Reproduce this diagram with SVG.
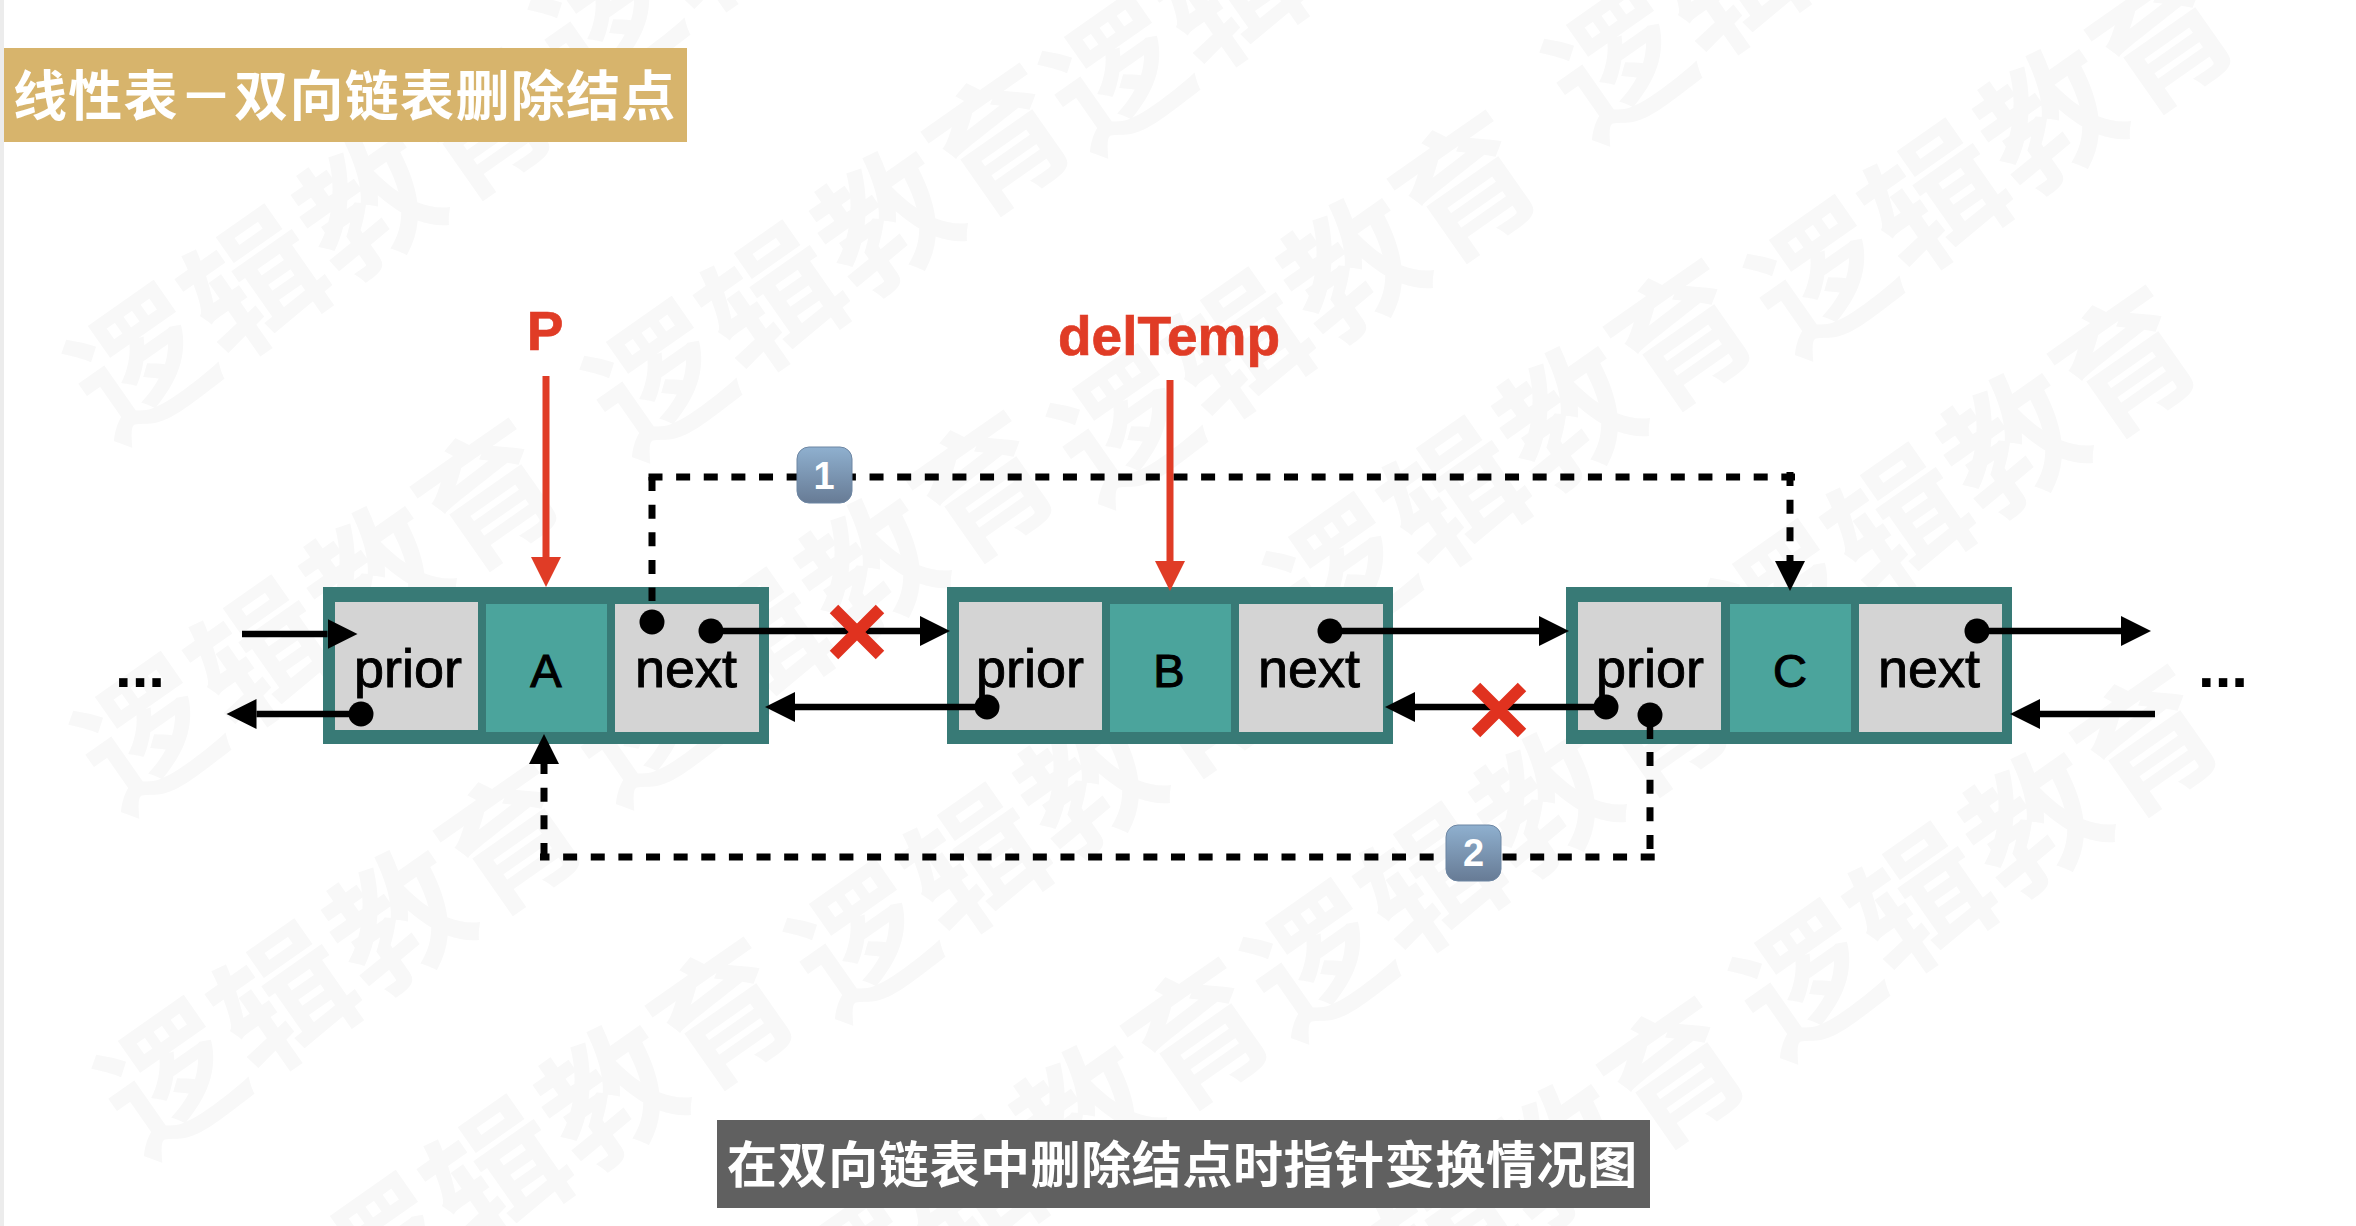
<svg xmlns="http://www.w3.org/2000/svg" width="2356" height="1226" viewBox="0 0 2356 1226">
<style>
.wm{font:700 136px "Noto Sans CJK SC",sans-serif;fill:#f8f8f8;letter-spacing:3px}
.frame{fill:#387a76}
.cell{fill:#d4d4d4}
.data{fill:#4ba49c}
.lbl{font:54px "Liberation Sans",Arial,sans-serif;fill:#000;stroke:#000;stroke-width:.9;text-anchor:middle}
.val{font:47px "Liberation Sans",Arial,sans-serif;fill:#000;stroke:#000;stroke-width:1.1;text-anchor:middle}
.ptr{font:700 55px "Liberation Sans",Arial,sans-serif;fill:#e03c26;stroke:#e03c26;stroke-width:.7;text-anchor:middle}
.dots{font:700 60px "Liberation Sans",Arial,sans-serif;fill:#000}
.solid{fill:none;stroke:#000;stroke-width:6.5}
.dash{fill:none;stroke:#000;stroke-width:7;stroke-dasharray:14 13.63}
.red{fill:none;stroke:#e03c26;stroke-width:7}
.cross{fill:none;stroke:#e0321f;stroke-width:12}
.badge{fill:url(#bg);stroke:#6d86a3;stroke-width:1}
.num{font:700 38px "Liberation Sans",Arial,sans-serif;fill:#fff;text-anchor:middle}
</style>
<defs>
<linearGradient id="bg" x1="0" y1="0" x2="0" y2="1"><stop offset="0" stop-color="#8fb0cf"/><stop offset="1" stop-color="#677b95"/></linearGradient>
<marker id="ah" markerUnits="userSpaceOnUse" markerWidth="32" markerHeight="32" refX="0" refY="16" orient="auto" viewBox="0 0 32 32"><path d="M0 1L30 16L0 31Z" fill="#000"/></marker>
<marker id="rh" markerUnits="userSpaceOnUse" markerWidth="32" markerHeight="32" refX="0" refY="16" orient="auto" viewBox="0 0 32 32"><path d="M0 1L30 16L0 31Z" fill="#e03c26"/></marker>
<marker id="dot" markerUnits="userSpaceOnUse" markerWidth="26" markerHeight="26" refX="13" refY="13" viewBox="0 0 26 26"><circle cx="13" cy="13" r="12.5" fill="#000"/></marker>
</defs>
<rect width="2356" height="1226" fill="#fff"/>
<rect width="4" height="1226" fill="#ececec"/>
<g id="watermark">
<g transform="translate(143 367) rotate(-35)"><text class="wm" x="-68" y="47">逻辑教育</text></g>
<g transform="translate(661 383) rotate(-35)"><text class="wm" x="-68" y="47">逻辑教育</text></g>
<g transform="translate(609 23) rotate(-35)"><text class="wm" x="-68" y="47">逻辑教育</text></g>
<g transform="translate(1119 78) rotate(-35)"><text class="wm" x="-68" y="47">逻辑教育</text></g>
<g transform="translate(1127 430) rotate(-35)"><text class="wm" x="-68" y="47">逻辑教育</text></g>
<g transform="translate(1621 66) rotate(-35)"><text class="wm" x="-68" y="47">逻辑教育</text></g>
<g transform="translate(1824 281) rotate(-35)"><text class="wm" x="-68" y="47">逻辑教育</text></g>
<g transform="translate(1343 578) rotate(-35)"><text class="wm" x="-68" y="47">逻辑教育</text></g>
<g transform="translate(1787 605) rotate(-35)"><text class="wm" x="-68" y="47">逻辑教育</text></g>
<g transform="translate(645 730) rotate(-35)"><text class="wm" x="-68" y="47">逻辑教育</text></g>
<g transform="translate(150 738) rotate(-35)"><text class="wm" x="-68" y="47">逻辑教育</text></g>
<g transform="translate(173 1082) rotate(-35)"><text class="wm" x="-68" y="47">逻辑教育</text></g>
<g transform="translate(864 945) rotate(-35)"><text class="wm" x="-68" y="47">逻辑教育</text></g>
<g transform="translate(385 1257) rotate(-35)"><text class="wm" x="-68" y="47">逻辑教育</text></g>
<g transform="translate(860 1277) rotate(-35)"><text class="wm" x="-68" y="47">逻辑教育</text></g>
<g transform="translate(1320 964) rotate(-35)"><text class="wm" x="-68" y="47">逻辑教育</text></g>
<g transform="translate(1809 984) rotate(-35)"><text class="wm" x="-68" y="47">逻辑教育</text></g>
<g transform="translate(1336 1316) rotate(-35)"><text class="wm" x="-68" y="47">逻辑教育</text></g>
</g>
<g id="title">
<rect x="4" y="48" width="683" height="94" fill="#d7b46c"/>
<text x="13" y="116" font-family="'Noto Sans CJK SC',sans-serif" font-size="54" font-weight="700" fill="#fff" letter-spacing="1.3">线性表－双向链表删除结点</text>
</g>
<g id="caption">
<rect x="717" y="1120" width="933" height="88" fill="#606060"/>
<text x="727" y="1183" font-family="'Noto Sans CJK SC',sans-serif" font-size="50" font-weight="700" fill="#fff" letter-spacing="0.6">在双向链表中删除结点时指针变换情况图</text>
</g>
<g id="node-a">
<rect class="frame" x="323" y="587" width="446" height="157"/>
<rect class="cell" x="335" y="602" width="143" height="128"/>
<rect class="data" x="486" y="604" width="121" height="128"/>
<rect class="cell" x="615" y="604" width="144" height="128"/>
<text class="lbl" x="408" y="687">prior</text><text class="val" x="546" y="687">A</text><text class="lbl" x="686" y="687">next</text>
</g>
<g id="node-b">
<rect class="frame" x="947" y="587" width="446" height="157"/>
<rect class="cell" x="959" y="602" width="143" height="128"/>
<rect class="data" x="1110" y="604" width="121" height="128"/>
<rect class="cell" x="1239" y="604" width="144" height="128"/>
<text class="lbl" x="1030" y="687">prior</text><text class="val" x="1169" y="687">B</text><text class="lbl" x="1309" y="687">next</text>
</g>
<g id="node-c">
<rect class="frame" x="1566" y="587" width="446" height="157"/>
<rect class="cell" x="1578" y="602" width="143" height="128"/>
<rect class="data" x="1730" y="604" width="121" height="128"/>
<rect class="cell" x="1859" y="604" width="143" height="128"/>
<text class="lbl" x="1650" y="687">prior</text><text class="val" x="1790" y="687">C</text><text class="lbl" x="1929" y="687">next</text>
</g>
<g id="connectors">
<path class="dash" d="M652 477V601"/>
<path class="dash" d="M648.500 477H1795"/>
<path class="dash" d="M1790 472V561" marker-end="url(#ah)"/>
<path class="dash" d="M1650 752V850"/>
<path class="dash" d="M540 857H1655" stroke-dashoffset="4.500"/>
<path class="dash" d="M544 857V764" marker-end="url(#ah)"/>
<circle cx="652" cy="622" r="12.500"/>
<circle cx="1650" cy="715" r="12.500"/>
<path class="solid" d="M1650 715V739"/>
<path class="solid" d="M242 634H327.500" marker-end="url(#ah)"/>
<path class="solid" d="M361 714H256.500" marker-start="url(#dot)" marker-end="url(#ah)"/>
<path class="solid" d="M711 631H920" marker-start="url(#dot)" marker-end="url(#ah)"/>
<path class="solid" d="M987 707H795" marker-start="url(#dot)" marker-end="url(#ah)"/>
<path class="solid" d="M1330 631H1539" marker-start="url(#dot)" marker-end="url(#ah)"/>
<path class="solid" d="M1606 707H1415" marker-start="url(#dot)" marker-end="url(#ah)"/>
<path class="solid" d="M1977 631H2121" marker-start="url(#dot)" marker-end="url(#ah)"/>
<path class="solid" d="M2155 714H2040" marker-end="url(#ah)"/>
<path class="red" d="M546 376V557" marker-end="url(#rh)"/>
<path class="red" d="M1170 380V561" marker-end="url(#rh)"/>
</g>
<g id="cross-1"><path class="cross" d="M834 609L880 655M880 609L834 655"/></g>
<g id="cross-2"><path class="cross" d="M1476 687L1522 733M1522 687L1476 733"/></g>
<g id="label-p"><text class="ptr" x="545" y="350">P</text></g>
<g id="label-deltemp"><text class="ptr" x="1169" y="355">delTemp</text></g>
<g id="badge-1"><rect class="badge" x="797" y="447" width="55" height="56" rx="12"/><text class="num" x="824" y="489">1</text></g>
<g id="badge-2"><rect class="badge" x="1446" y="825" width="55" height="56" rx="12"/><text class="num" x="1473.500" y="866">2</text></g>
<g id="ellipsis-left"><text class="dots" x="115" y="687">...</text></g>
<g id="ellipsis-right"><text class="dots" x="2198" y="687">...</text></g>
</svg>
